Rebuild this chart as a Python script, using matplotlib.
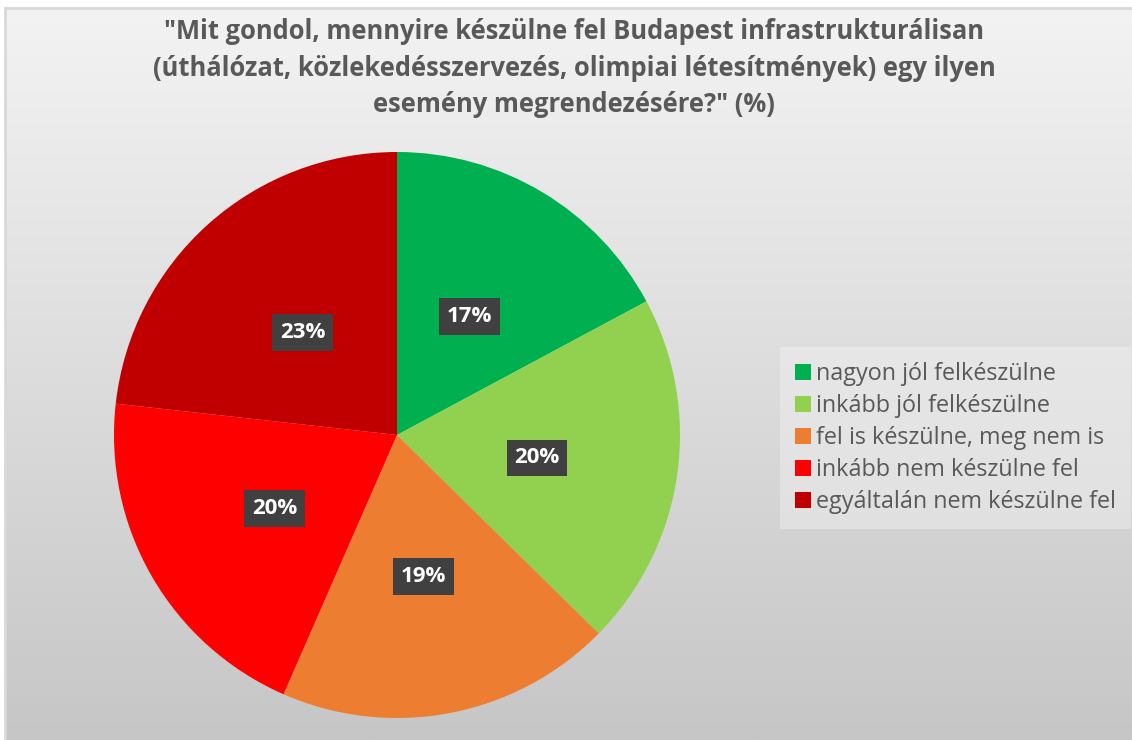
import matplotlib as mpl
import matplotlib.pyplot as plt
import numpy as np

# adatok
kategoriak = ['nagyon jól felkészülne', 'inkább jól felkészülne',
              'fel is készülne, meg nem is', 'inkább nem készülne fel',
              'egyáltalán nem készülne fel']
szazalek = [17, 20, 19, 20, 23]
szinek = ['#00b050', '#92d050', '#ed7d31', '#ff0000', '#c00000']

cim = ('"Mit gondol, mennyire készülne fel Budapest infrastrukturálisan\n'
       '(úthálózat, közlekedésszervezés, olimpiai létesítmények) egy ilyen\n'
       'esemény megrendezésére?" (%)')

mpl.rcParams['font.family'] = ['Open Sans', 'DejaVu Sans']

W, H = 1132, 740
fig = plt.figure(figsize=(W / 100, H / 100), dpi=100)
fig.patch.set_facecolor('white')

# háttér színátmenet
bg = fig.add_axes([5 / W, 0, 1 - 5 / W, 1 - 8 / H])
grad = np.linspace(0, 1, 256).reshape(-1, 1)
bg.imshow(grad, aspect='auto', cmap=mpl.colors.LinearSegmentedColormap.from_list(
    'g', ['#f3f3f3', '#c6c6c6']), extent=[0, 1, 0, 1], origin='upper')
bg.set_xticks([])
bg.set_yticks([])
for s in bg.spines.values():
    s.set_visible(False)
bg.plot([0, 1], [1, 1], color='#d9d9d9', lw=2, transform=bg.transAxes, clip_on=False)
bg.plot([0, 0], [0, 1], color='#d9d9d9', lw=2, transform=bg.transAxes, clip_on=False)

# torta
r = 283
cx, cy = 397, 435
ax = fig.add_axes([(cx - r) / W, (H - cy - r) / H, 2 * r / W, 2 * r / H])
wedges, texts, autotexts = ax.pie(
    szazalek, colors=szinek, startangle=90, counterclock=False,
    autopct='%d%%', pctdistance=0.5, radius=1,
    wedgeprops=dict(linewidth=0),
    textprops=dict(color='white', fontsize=16, fontweight='bold'))
for t in autotexts:
    t.set_bbox(dict(boxstyle='square,pad=0.35', facecolor='#404040', edgecolor='none'))
    x, y = t.get_position()
    t.set_position((x, y - 0.01))
ax.set_xlim(-1, 1)
ax.set_ylim(-1, 1)
ax.set_aspect('equal')
ax.axis('off')

fig.text(574 / W, 1 - 68 / H, cim, ha='center', va='center', fontsize=18.4,
         fontweight='bold', color='#595959', linespacing=1.45)

leg = fig.legend(wedges, kategoriak, loc='center left',
                 bbox_to_anchor=(775 / W, 1 - 438 / H), frameon=True,
                 fontsize=16.8, labelcolor='#595959', handlelength=0.7,
                 handleheight=0.7, handletextpad=0.2, labelspacing=0.34,
                 borderpad=0.35)
leg.get_frame().set_facecolor('#f2f2f2')
leg.get_frame().set_alpha(0.45)
leg.get_frame().set_edgecolor('none')
leg.get_frame().set_boxstyle('square')

plt.savefig('out.png', dpi=100)
